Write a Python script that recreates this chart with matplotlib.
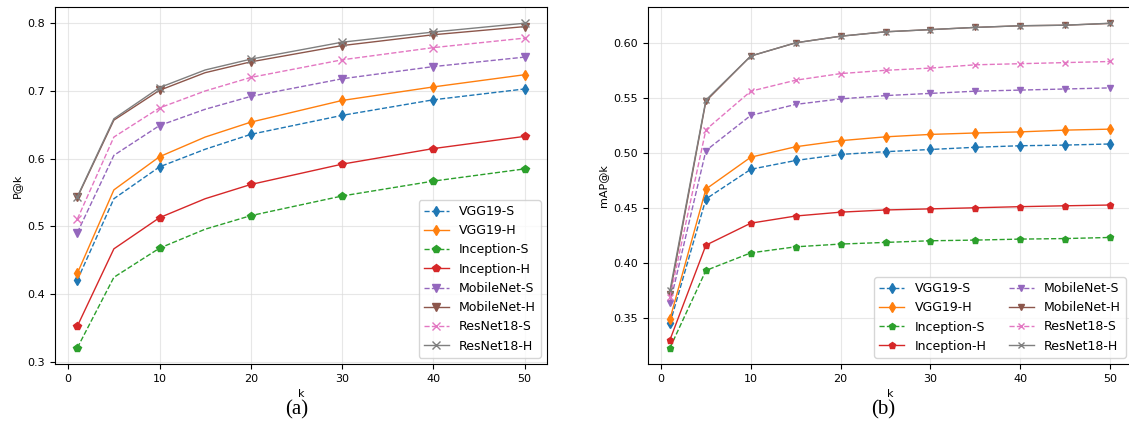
import matplotlib
matplotlib.use("Agg")
import matplotlib.pyplot as plt

# k values for each panel
k_a = [1, 5, 10, 15, 20, 30, 40, 50]
k_b = [1, 5, 10, 15, 20, 25, 30, 35, 40, 45, 50]

names = ["VGG19-S", "VGG19-H", "Inception-S", "Inception-H",
         "MobileNet-S", "MobileNet-H", "ResNet18-S", "ResNet18-H"]

# (a) P@k
p_vgg_s = [0.421, 0.541, 0.588, 0.614, 0.636, 0.664, 0.687, 0.703]
p_vgg_h = [0.431, 0.554, 0.603, 0.632, 0.654, 0.686, 0.706, 0.724]
p_inc_s = [0.321, 0.425, 0.468, 0.496, 0.516, 0.545, 0.567, 0.585]
p_inc_h = [0.353, 0.467, 0.513, 0.541, 0.562, 0.592, 0.615, 0.633]
p_mob_s = [0.491, 0.605, 0.649, 0.673, 0.692, 0.718, 0.736, 0.750]
p_mob_h = [0.543, 0.657, 0.701, 0.727, 0.743, 0.767, 0.783, 0.795]
p_res_s = [0.511, 0.632, 0.675, 0.700, 0.720, 0.746, 0.764, 0.778]
p_res_h = [0.544, 0.659, 0.705, 0.731, 0.747, 0.772, 0.787, 0.800]

# (b) mAP@k
m_vgg_s = [0.345, 0.458, 0.485, 0.493, 0.4985, 0.501, 0.503, 0.505, 0.5064, 0.507, 0.508]
m_vgg_h = [0.349, 0.467, 0.496, 0.5055, 0.511, 0.5145, 0.5167, 0.518, 0.519, 0.5206, 0.5215]
m_inc_s = [0.3227, 0.393, 0.409, 0.4145, 0.417, 0.4185, 0.420, 0.4206, 0.4215, 0.422, 0.423]
m_inc_h = [0.330, 0.416, 0.436, 0.4425, 0.446, 0.448, 0.449, 0.450, 0.451, 0.4518, 0.4525]
m_mob_s = [0.363, 0.502, 0.534, 0.544, 0.549, 0.552, 0.554, 0.556, 0.557, 0.558, 0.559]
m_mob_h = [0.372, 0.547, 0.588, 0.600, 0.606, 0.610, 0.612, 0.614, 0.6155, 0.616, 0.6176]
m_res_s = [0.369, 0.521, 0.556, 0.566, 0.572, 0.575, 0.577, 0.580, 0.581, 0.582, 0.583]
m_res_h = [0.375, 0.548, 0.588, 0.600, 0.606, 0.610, 0.612, 0.614, 0.6155, 0.616, 0.6178]

markers = ["d", "d", "p", "p", "v", "v", "x", "x"]
styles = ["--", "-", "--", "-", "--", "-", "--", "-"]
colors = ["C%d" % i for i in range(8)]

fig = plt.figure(figsize=(11.29, 4.30), dpi=100)
ax1 = fig.add_axes([55 / 1129, 1 - 364 / 430, 492 / 1129, 357 / 430])
ax2 = fig.add_axes([648 / 1129, 1 - 364 / 430, 484 / 1129, 357 / 430])


def draw(ax, ks, series, ylabel, ncol, every, ms):
    for i, ys in enumerate(series):
        ax.plot(ks, ys, linestyle=styles[i], marker=markers[i], color=colors[i],
                linewidth=1, markersize=ms, markevery=every, label=names[i])
    ax.grid(True, color="#dddddd", linewidth=0.8, alpha=0.7)
    ax.set_axisbelow(True)
    ax.set_xlabel("k", fontsize=8)
    ax.set_ylabel(ylabel, fontsize=8)
    ax.tick_params(labelsize=8)
    ax.legend(loc="lower right", ncol=ncol, fontsize=9, columnspacing=1.8)


draw(ax1, k_a, [p_vgg_s, p_vgg_h, p_inc_s, p_inc_h, p_mob_s, p_mob_h, p_res_s, p_res_h],
     "P@k", 1, [0, 2, 4, 5, 6, 7], 5.5)
draw(ax2, k_b, [m_vgg_s, m_vgg_h, m_inc_s, m_inc_h, m_mob_s, m_mob_h, m_res_s, m_res_h],
     "mAP@k", 2, None, 5)
ax1.set_xticks([0, 10, 20, 30, 40, 50])
ax2.set_xticks([0, 10, 20, 30, 40, 50])

fig.text(297 / 1129, 1 - 410 / 430, "(a)", fontsize=15, family="Liberation Serif",
         ha="center", va="center")
fig.text(883 / 1129, 1 - 410 / 430, "(b)", fontsize=15, family="Liberation Serif",
         ha="center", va="center")

fig.savefig("out.png", dpi=100)
